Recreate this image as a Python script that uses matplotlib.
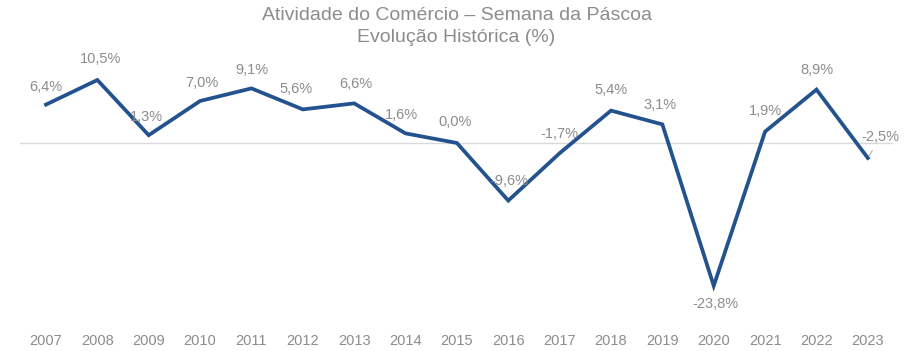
import matplotlib.pyplot as plt

# --- Data ---
years = ["2007", "2008", "2009", "2010", "2011", "2012", "2013", "2014", "2015",
         "2016", "2017", "2018", "2019", "2020", "2021", "2022", "2023"]
values = [6.4, 10.5, 1.3, 7.0, 9.1, 5.6, 6.6, 1.6, 0.0,
          -9.6, -1.7, 5.4, 3.1, -23.8, 1.9, 8.9, -2.5]
labels = ["6,4%", "10,5%", "1,3%", "7,0%", "9,1%", "5,6%", "6,6%", "1,6%", "0,0%",
          "-9,6%", "-1,7%", "5,4%", "3,1%", "-23,8%", "1,9%", "8,9%", "-2,5%"]
# label offsets in points (dx, dy)
offsets = [(0, 13), (2, 15), (-2, 13), (1, 13), (0, 13), (-5, 15), (1, 14), (-3, 13),
           (-1, 15), (1, 14), (0, 14), (0, 15), (-2, 14), (1, -13), (0, 15), (0, 14),
           (9, 15)]

LINE = "#23528f"
GREY = "#8c8c8c"

plt.rcParams["font.family"] = ["Liberation Sans", "DejaVu Sans"]

fig = plt.figure(figsize=(9.13, 3.51), dpi=100)
ax = fig.add_axes([20 / 913, 1 - 310 / 351, 873 / 913, 250 / 351])

x = list(range(len(years)))
ax.axhline(0, color="#d9d9d9", linewidth=1, zorder=1)
ax.plot(x, values, color=LINE, linewidth=2.7, zorder=2, solid_joinstyle="miter")

for i, (v, lab, (dx, dy)) in enumerate(zip(values, labels, offsets)):
    arrow = None
    if i == len(values) - 1:
        arrow = dict(arrowstyle="-", color="#b0b0b0", linewidth=0.8, shrinkA=3, shrinkB=2)
    ax.annotate(lab, (i, v), xytext=(dx, dy), textcoords="offset points",
                ha="center", va="center", fontsize=10.5, color=GREY, zorder=3,
                arrowprops=arrow)

ax.set_xlim(-0.506, 16.49)
ax.set_ylim(-27.83, 13.83)
ax.set_xticks(x)
ax.set_xticklabels(years)
ax.set_yticks([])
ax.tick_params(axis="x", length=0, labelsize=10.5, labelcolor=GREY, pad=17)
for s in ax.spines.values():
    s.set_visible(False)

fig.text(0.5, 1 - 15 / 351, "Atividade do Comércio – Semana da Páscoa",
         ha="center", va="center", fontsize=14, color=GREY)
fig.text(0.5, 1 - 37 / 351, "Evolução Histórica (%)",
         ha="center", va="center", fontsize=14, color=GREY)

fig.savefig("out.png", dpi=100)
